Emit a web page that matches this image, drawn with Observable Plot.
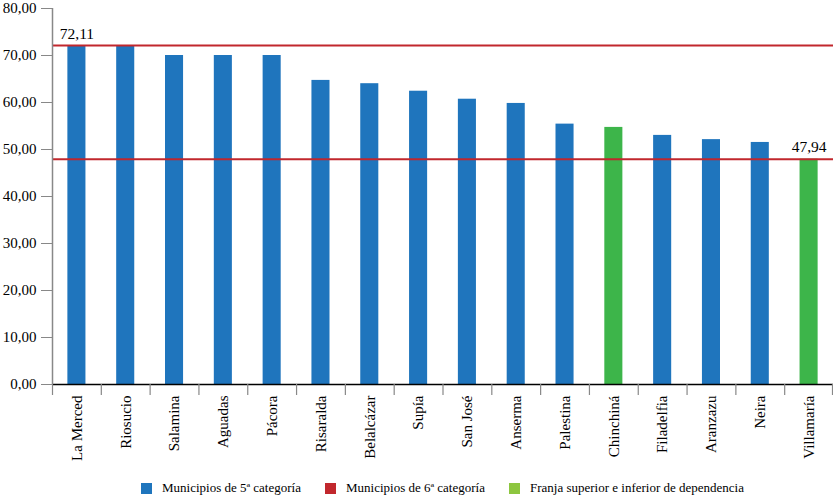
<!DOCTYPE html>
<html>
<head>
<meta charset="utf-8">
<script src="https://cdn.jsdelivr.net/npm/d3@7"></script>
<script src="https://cdn.jsdelivr.net/npm/@observablehq/plot@0.6"></script>
<style>
  html, body { margin: 0; padding: 0; background: #fff; }
  body { width: 833px; height: 498px; overflow: hidden; font-family: "Liberation Serif", "DejaVu Serif", serif; }
  #legend { display: flex; justify-content: center; align-items: center; padding-left: 52px; height: 20px; font-size: 13px; color: #000; }
  #legend .item { display: flex; align-items: center; margin: 0 12px; }
  #legend .sw { width: 11px; height: 11px; margin-right: 10px; }
</style>
</head>
<body>
<div id="chart"></div>
<div id="legend"></div>
<script>
const municipios = ["La Merced","Riosucio","Salamina","Aguadas","Pácora","Risaralda","Belalcázar","Supía","San José","Anserma","Palestina","Chinchiná","Filadelfia","Aranzazu","Neira","Villamaría"];
const valores = [72.11, 72.0, 70.0, 70.0, 70.0, 64.7, 64.0, 62.4, 60.7, 59.8, 55.4, 54.7, 53.0, 52.1, 51.5, 47.94];
const grupo = ["5a","5a","5a","5a","5a","5a","5a","5a","5a","5a","5a","franja","5a","5a","5a","franja"];
const lineas = [72.11, 47.94];
const etiquetas = ["La Merced", "Villamaría"];
const yTicks = [0, 10, 20, 30, 40, 50, 60, 70, 80];
const legendItems = [
  {label: "Municipios de 5ª categoría", color: "#1f75bd"},
  {label: "Municipios de 6ª categoría", color: "#c1272d"},
  {label: "Franja superior e inferior de dependencia", color: "#8dc63f"}
];

const data = municipios.map((m, i) => ({m, v: valores[i], g: grupo[i]}));
const fmt = d => d.toFixed(2).replace(".", ",");

const W = 833, H = 478, mL = 52, mR = 0;
const pInner = 0.63, pOuter = pInner / 2;
const step = (W - mL - mR) / (municipios.length - pInner + 2 * pOuter);
const FONT = "'Liberation Serif', 'DejaVu Serif', serif";

const plot = Plot.plot({
  width: W,
  height: H,
  marginLeft: mL,
  marginRight: mR,
  marginTop: 8,
  marginBottom: H - 384,
  style: {fontFamily: FONT, fontSize: "15px", color: "#000", background: "#fff", overflow: "visible"},
  x: {domain: municipios, paddingInner: pInner, paddingOuter: pOuter, round: false, label: null},
  y: {domain: [0, 80], label: null},
  color: {domain: ["5a", "franja"], range: ["#1f75bd", "#3db54a"]},
  marks: [
    Plot.barY(data, {x: "m", y: "v", fill: "g"}),
    Plot.ruleY(lineas, {stroke: "#c1272d", strokeWidth: 2}),
    Plot.ruleY([0], {stroke: "#000", strokeWidth: 1.5}),
    Plot.ruleX([municipios[0]], {dx: -step / 2, y1: 0, y2: 80, stroke: "#888", strokeWidth: 1.5}),
    Plot.ruleX(municipios, {x: d => d, dx: -step / 2, y1: 0, y2: 0, insetBottom: -11, stroke: "#888", strokeWidth: 1.2}),
    Plot.ruleX([municipios[municipios.length - 1]], {x: d => d, dx: step / 2 - 1, y1: 0, y2: 0, insetBottom: -11, stroke: "#888", strokeWidth: 1.2}),
    Plot.axisY({ticks: yTicks, tickFormat: fmt, tickSize: 11, tickPadding: 5, stroke: "#888", fontSize: 15, fontFamily: FONT, label: null}),
    Plot.axisX({tickSize: 0, tickRotate: -90, tickPadding: 11, fontSize: 15, fontFamily: FONT, label: null}),
    Plot.text(data.filter(d => etiquetas.includes(d.m)), {x: "m", y: "v", text: d => fmt(d.v), dy: -12, fontSize: 15.5, fontFamily: FONT, fill: "#000"})
  ]
});
document.getElementById("chart").appendChild(plot);

const legend = d3.select("#legend");
legendItems.forEach(it => {
  const item = legend.append("div").attr("class", "item");
  item.append("div").attr("class", "sw").style("background", it.color);
  item.append("span").text(it.label);
});
</script>
</body>
</html>
